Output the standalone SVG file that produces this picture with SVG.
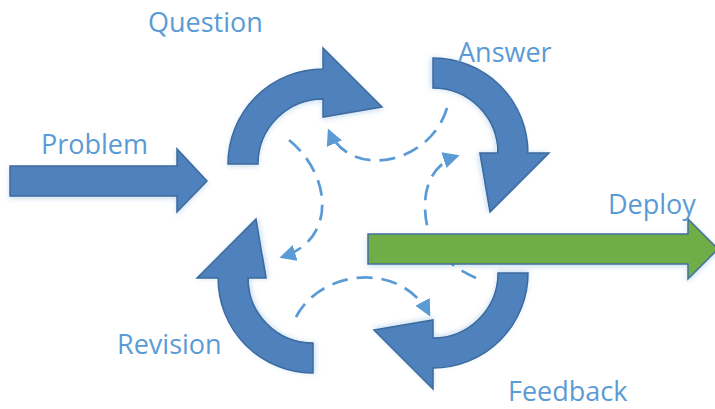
<svg xmlns="http://www.w3.org/2000/svg" width="715" height="409" viewBox="0 0 715 409">
  <style>
    .blk { fill: #4F81BD; stroke: #3C6A9E; stroke-width: 1.5; stroke-linejoin: miter; filter: url(#sh); }
    .grn { fill: #70AD47; stroke: #41719C; stroke-width: 1.5; filter: url(#sh); }
    .lbl { font-family: "Open Sans", "Liberation Sans", sans-serif; font-size: 27px; fill: #5B9BD5; }
    .dash { fill: none; stroke: #5B9BD5; stroke-width: 2.75; stroke-dasharray: 16 9; marker-end: url(#ah); }
  </style>
  <defs>
    <filter id="sh" x="-20%" y="-20%" width="140%" height="140%">
      <feDropShadow dx="0" dy="2" stdDeviation="2.5" flood-color="#5B9BD5" flood-opacity="0.3"/>
    </filter>
    <marker id="ah" markerWidth="6" markerHeight="6" refX="5" refY="3" orient="auto" markerUnits="strokeWidth">
      <path d="M0,0 L6,3 L0,6 Z" fill="#5B9BD5"/>
    </marker>
    <path id="curv" d="M-95,0 A95,95 0 0 1 0,-95 L0,-116 L59,-57 L0,-47 L0,-65 A65,65 0 0 0 -65,0 Z"/>
  </defs>
  <rect width="715" height="409" fill="#FFFFFF"/>

  <g id="connectors">
    <path class="dash" d="M447,108 C430,165 350,180 329,131"/>
    <path class="dash" d="M289,140 C332,175 337,240 282,257"/>
    <path class="dash" d="M296,317 C320,270 400,260 429,314"/>
    <path class="dash" d="M476,278 C440,262 425,240 425,205 C425,180 438,162 457,156"/>
  </g>

  <g id="problem">
    <path class="blk" d="M10,166 L177,166 L177,149 L207,181 L177,212 L177,196 L10,196 Z"/>
    <text class="lbl" x="41" y="154">Problem</text>
  </g>
  <g id="question">
    <use href="#curv" class="blk" transform="translate(323,164)"/>
    <text class="lbl" x="148" y="32">Question</text>
  </g>
  <g id="answer">
    <use href="#curv" class="blk" transform="translate(433,153) rotate(90)"/>
    <text class="lbl" x="458" y="62">Answer</text>
  </g>
  <g id="feedback">
    <use href="#curv" class="blk" transform="translate(433,273) rotate(180)"/>
    <text class="lbl" x="508" y="401">Feedback</text>
  </g>
  <g id="revision">
    <use href="#curv" class="blk" transform="translate(313,278) rotate(270)"/>
    <text class="lbl" x="117" y="354">Revision</text>
  </g>
  <g id="deploy">
    <path class="grn" d="M368,234 L688,234 L688,219 L718,249 L688,279 L688,264 L368,264 Z"/>
    <text class="lbl" x="608" y="214">Deploy</text>
  </g>
</svg>
